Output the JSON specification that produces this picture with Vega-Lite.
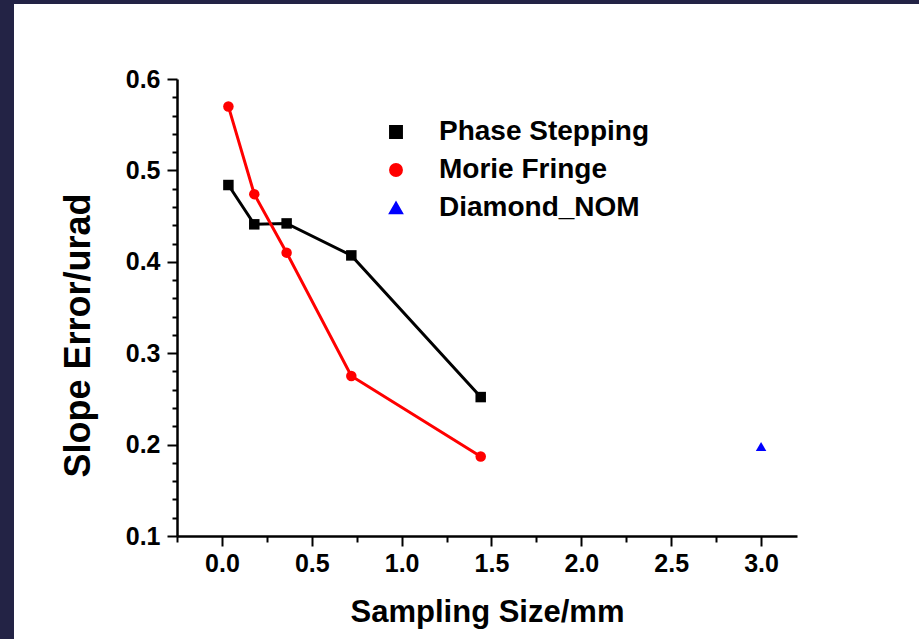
{
  "$schema": "https://vega.github.io/schema/vega-lite/v6.json",
  "background": "white",
  "padding": 0,
  "config": {"view": {"stroke": null}, "font": "Liberation Sans"},
  "spacing": 0,
  "vconcat": [
    {"width": 919, "height": 4, "data": {"values": []}, "mark": "point", "view": {"fill": "#232345", "stroke": null}},
    {
      "hconcat": [
        {"width": 14, "height": 635, "data": {"values": []}, "mark": "point", "view": {"fill": "#232345", "stroke": null}},
        {
          "vconcat": [
            {"width": 620, "height": 75, "data": {"values": []}, "mark": "point"},
            {
              "width": 620,
              "height": 457,
              "data": {"values": [
                {"series": "Phase Stepping", "size": 0.036, "err": 0.484},
                {"series": "Phase Stepping", "size": 0.18, "err": 0.441},
                {"series": "Phase Stepping", "size": 0.36, "err": 0.442},
                {"series": "Phase Stepping", "size": 0.72, "err": 0.407},
                {"series": "Phase Stepping", "size": 1.44, "err": 0.252},
                {"series": "Morie Fringe", "size": 0.036, "err": 0.570},
                {"series": "Morie Fringe", "size": 0.18, "err": 0.474},
                {"series": "Morie Fringe", "size": 0.36, "err": 0.410},
                {"series": "Morie Fringe", "size": 0.72, "err": 0.275},
                {"series": "Morie Fringe", "size": 1.44, "err": 0.187},
                {"series": "Diamond_NOM", "size": 3.0, "err": 0.198}
              ]},
              "encoding": {
                "x": {
                  "field": "size", "type": "quantitative",
                  "scale": {"domain": [-0.25, 3.2], "nice": false, "zero": false},
                  "axis": {
                    "values": [-0.25, 0, 0.25, 0.5, 0.75, 1, 1.25, 1.5, 1.75, 2, 2.25, 2.5, 2.75, 3],
                    "labelExpr": "abs(datum.value*2 - round(datum.value*2)) < 0.01 ? format(datum.value, '.1f') : ''",
                    "tickSize": {"condition": {"test": "abs(datum.value*2 - round(datum.value*2)) < 0.01", "value": 10}, "value": 6},
                    "grid": false,
                    "domainColor": "black", "domainWidth": 2.5,
                    "tickColor": "black", "tickWidth": 2,
                    "labelFont": "Liberation Sans", "labelFontSize": 25, "labelFontWeight": "bold", "labelColor": "black",
                    "labelPadding": 5, "labelOverlap": false, "labelFlush": false, "labelBound": false,
                    "title": "Sampling Size/mm",
                    "titleFont": "Liberation Sans", "titleFontSize": 31, "titleFontWeight": "bold", "titleColor": "black",
                    "titlePadding": 21,
                    "zindex": 1
                  }
                },
                "y": {
                  "field": "err", "type": "quantitative",
                  "scale": {"domain": [0.1, 0.6], "nice": false, "zero": false},
                  "axis": {
                    "values": [0.1, 0.12, 0.14, 0.16, 0.18, 0.2, 0.22, 0.24, 0.26, 0.28, 0.3, 0.32, 0.34, 0.36, 0.38, 0.4, 0.42, 0.44, 0.46, 0.48, 0.5, 0.52, 0.54, 0.56, 0.58, 0.6],
                    "labelExpr": "abs(datum.value*10 - round(datum.value*10)) < 0.01 ? format(datum.value, '.1f') : ''",
                    "tickSize": {"condition": {"test": "abs(datum.value*10 - round(datum.value*10)) < 0.01", "value": 10}, "value": 5},
                    "grid": false,
                    "domainColor": "black", "domainWidth": 2.5,
                    "tickColor": "black", "tickWidth": 2,
                    "labelFont": "Liberation Sans", "labelFontSize": 25, "labelFontWeight": "bold", "labelColor": "black",
                    "labelPadding": 7, "labelOverlap": false, "labelFlush": false, "labelBound": false,
                    "title": "Slope Error/urad",
                    "titleFont": "Liberation Sans", "titleFontSize": 36, "titleFontWeight": "bold", "titleColor": "black",
                    "titlePadding": 28, "titleY": 256,
                    "zindex": 1
                  }
                },
                "color": {
                  "field": "series", "type": "nominal",
                  "scale": {"domain": ["Phase Stepping", "Morie Fringe", "Diamond_NOM"], "range": ["#000000", "#ff0000", "#0000ff"]},
                  "legend": {
                    "orient": "none", "legendX": 382, "legendY": 118,
                    "padding": 0, "title": null,
                    "labelFont": "Liberation Sans", "labelFontSize": 28, "labelFontWeight": "bold", "labelColor": "black",
                    "labelOffset": 29, "rowPadding": 10, "labelLimit": 0,
                    "symbolSize": 130, "symbolStrokeWidth": 2.5
                  }
                }
              },
              "layer": [
                {
                  "mark": {"type": "line", "strokeWidth": 3}
                },
                {
                  "mark": {"type": "point", "filled": true, "size": 110, "opacity": 1},
                  "encoding": {
                    "shape": {
                      "field": "series", "type": "nominal",
                      "scale": {"domain": ["Phase Stepping", "Morie Fringe", "Diamond_NOM"], "range": ["square", "circle", "triangle-up"]},
                      "legend": null
                    }
                  }
                }
              ]
            }
          ],
          "spacing": 0,
          "bounds": "flush"
        }
      ],
      "spacing": 163,
      "bounds": "flush"
    }
  ]
}
